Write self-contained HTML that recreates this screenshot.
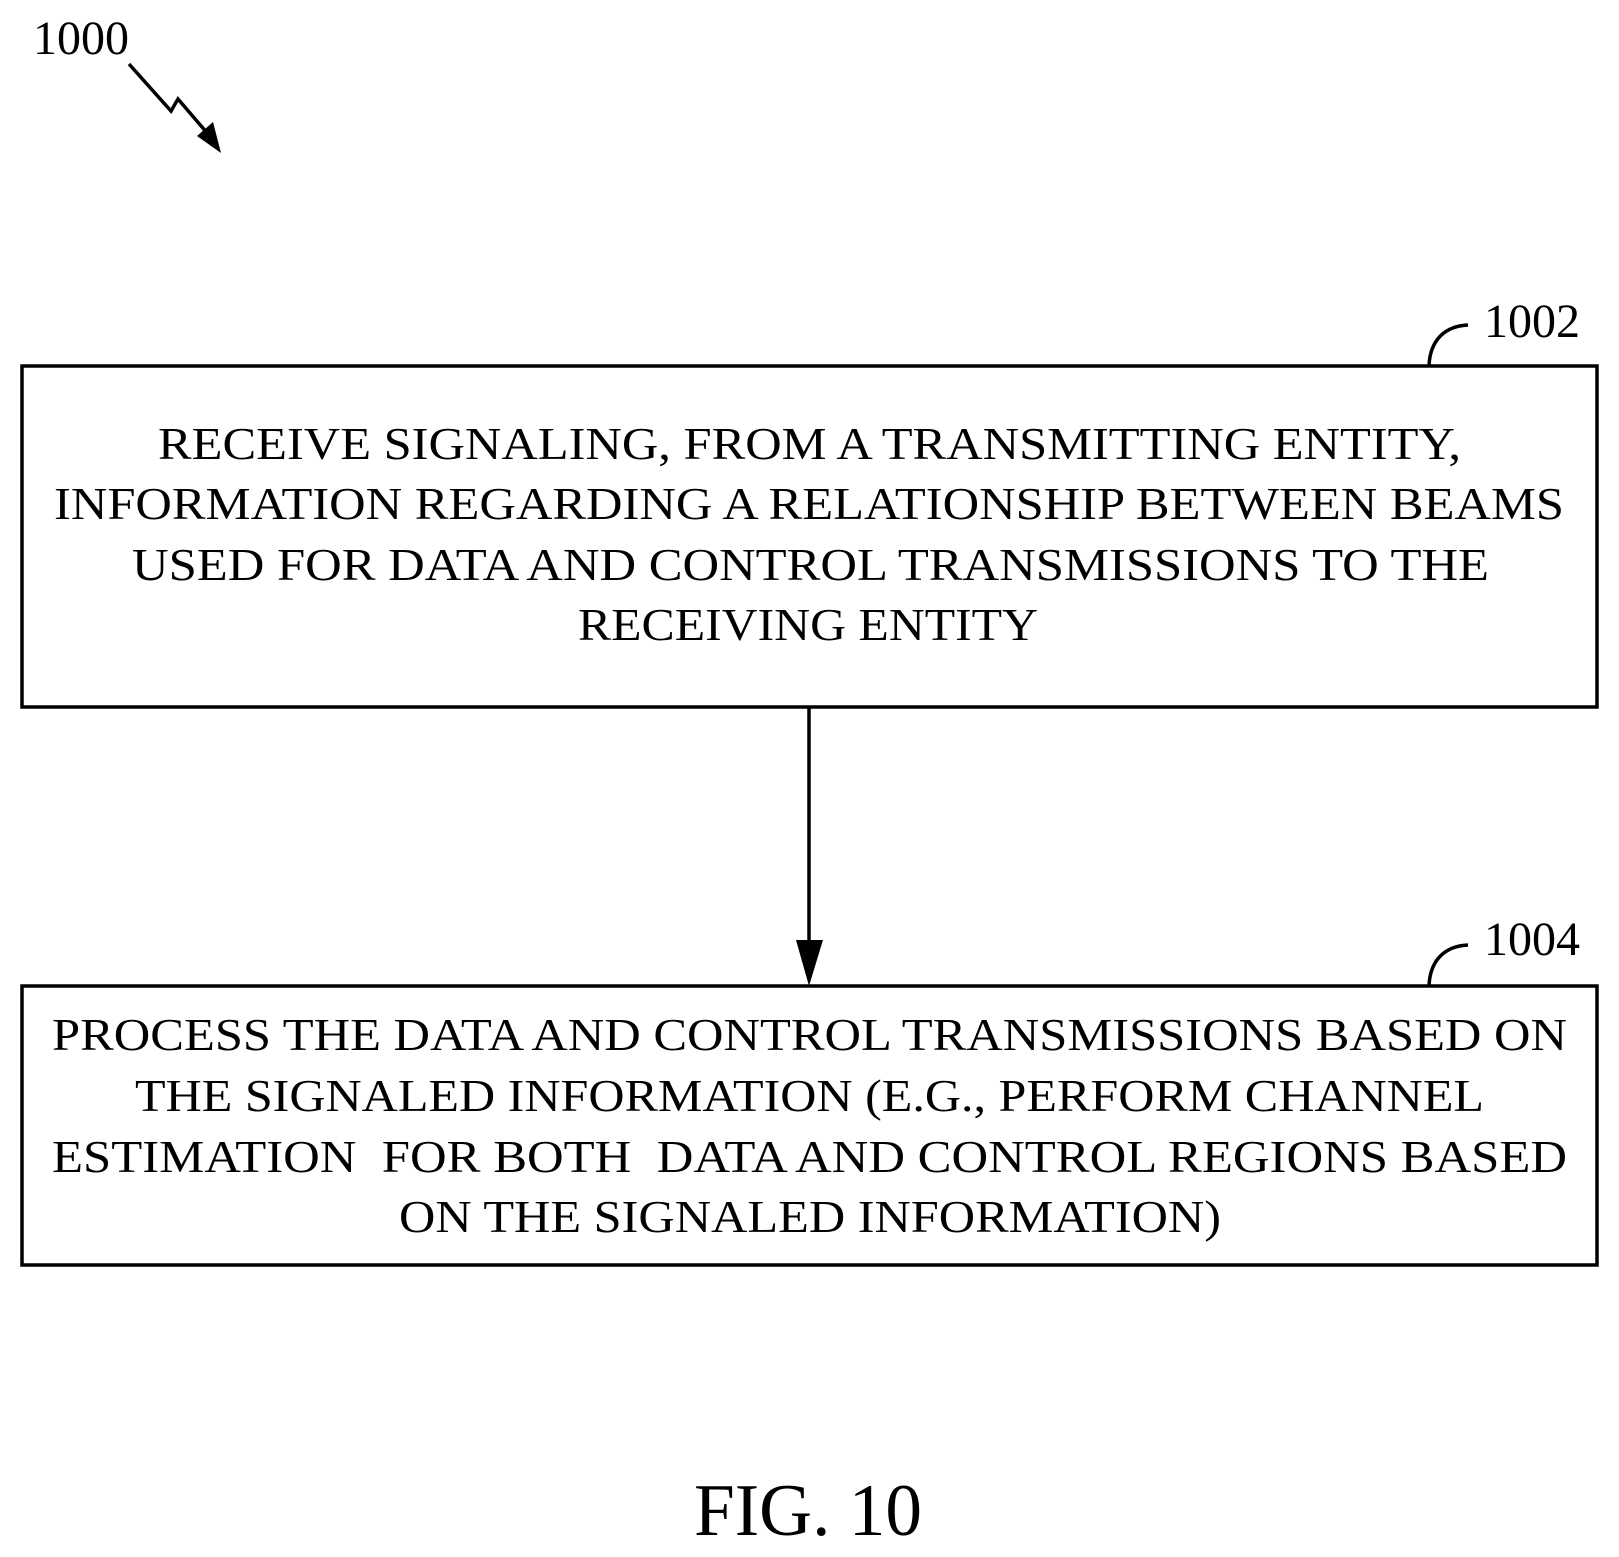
<!DOCTYPE html>
<html><head><meta charset="utf-8"><style>
html,body{margin:0;padding:0;background:#fff}
svg{display:block}
text{font-family:"Liberation Serif",serif;fill:#000}
</style></head><body>
<svg width="1619" height="1557" viewBox="0 0 1619 1557" xmlns="http://www.w3.org/2000/svg">
<text x="33" y="54" font-size="48">1000</text>
<polyline points="129,64 171,111 178,99 208,134" fill="none" stroke="#000" stroke-width="3.5"/>
<polygon points="221,153 197,136 213,122" fill="#000"/>
<text x="1484" y="337" font-size="48">1002</text>
<path d="M1429,366 C1430,340 1445,326 1468,325" fill="none" stroke="#000" stroke-width="3.5"/>
<rect x="22" y="366" width="1575" height="341" fill="none" stroke="#000" stroke-width="3.5"/>
<g font-size="46" lengthAdjust="spacingAndGlyphs">
<text x="158" y="459" textLength="1303" lengthAdjust="spacingAndGlyphs">RECEIVE SIGNALING, FROM A TRANSMITTING ENTITY,</text>
<text x="54" y="519" textLength="1510" lengthAdjust="spacingAndGlyphs">INFORMATION REGARDING A RELATIONSHIP BETWEEN BEAMS</text>
<text x="132" y="580" textLength="1357" lengthAdjust="spacingAndGlyphs">USED FOR DATA AND CONTROL TRANSMISSIONS TO THE</text>
<text x="578" y="640" textLength="460" lengthAdjust="spacingAndGlyphs">RECEIVING ENTITY</text>
</g>
<line x1="809" y1="707" x2="809" y2="945" stroke="#000" stroke-width="3.5"/>
<polygon points="796,940 823,940 809,986" fill="#000"/>
<text x="1484" y="955" font-size="48">1004</text>
<path d="M1429,986 C1430,960 1445,946 1468,945" fill="none" stroke="#000" stroke-width="3.5"/>
<rect x="22" y="986" width="1575" height="279" fill="none" stroke="#000" stroke-width="3.5"/>
<g font-size="46">
<text x="52" y="1050" textLength="1515" lengthAdjust="spacingAndGlyphs">PROCESS THE DATA AND CONTROL TRANSMISSIONS BASED ON</text>
<text x="135" y="1111" textLength="1349" lengthAdjust="spacingAndGlyphs">THE SIGNALED INFORMATION (E.G., PERFORM CHANNEL</text>
<text x="52" y="1172" textLength="1515" lengthAdjust="spacingAndGlyphs" xml:space="preserve">ESTIMATION  FOR BOTH  DATA AND CONTROL REGIONS BASED</text>
<text x="399" y="1232" textLength="822" lengthAdjust="spacingAndGlyphs">ON THE SIGNALED INFORMATION)</text>
</g>
<text x="694" y="1535" font-size="74" textLength="228" lengthAdjust="spacingAndGlyphs">FIG. 10</text>
</svg>
</body></html>
